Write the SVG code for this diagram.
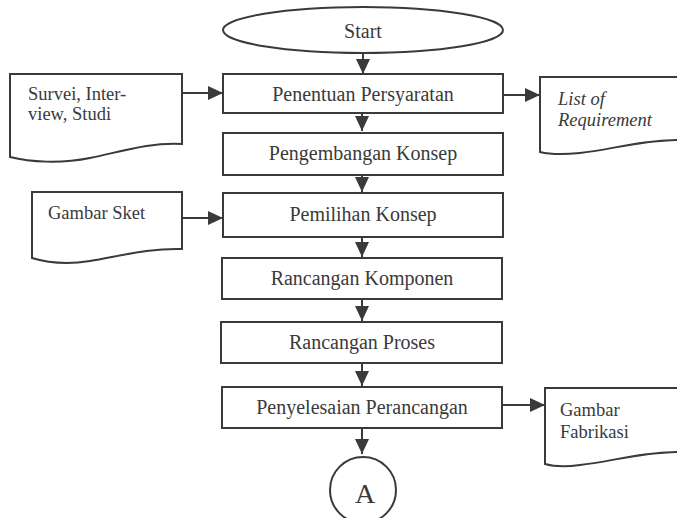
<svg xmlns="http://www.w3.org/2000/svg" width="677" height="518" viewBox="0 0 677 518">
<style>
.s{fill:#fff;stroke:#3a3a3a;stroke-width:2}
.t{font-family:'Liberation Serif','Times New Roman','DejaVu Serif',serif;font-size:20px;fill:#3a3a3a;text-anchor:middle}
.d{font-family:'Liberation Serif','Times New Roman','DejaVu Serif',serif;font-size:18.5px;fill:#3a3a3a}
.c{fill:none;stroke:#3a3a3a;stroke-width:2}
</style>
<defs>
<marker id="ah" markerUnits="userSpaceOnUse" markerWidth="15" markerHeight="14" refX="15" refY="7" orient="auto">
<path d="M0,0 L15,7 L0,14 Z" fill="#3a3a3a"/>
</marker>
</defs>
<rect width="677" height="518" fill="#fff"/>
<g id="start"><ellipse class="s" cx="363" cy="30" rx="140" ry="23"/><text class="t" x="363" y="38">Start</text></g>
<g id="penentuan"><rect class="s" x="223" y="74" width="280" height="39"/><text class="t" x="363" y="101">Penentuan Persyaratan</text></g>
<g id="pengembangan"><rect class="s" x="223" y="133" width="280" height="42"/><text class="t" x="363" y="160">Pengembangan Konsep</text></g>
<g id="pemilihan"><rect class="s" x="223" y="193" width="280" height="44"/><text class="t" x="363" y="221">Pemilihan Konsep</text></g>
<g id="komponen"><rect class="s" x="222" y="258" width="280" height="41"/><text class="t" x="362" y="285">Rancangan Komponen</text></g>
<g id="proses"><rect class="s" x="221" y="322" width="281" height="41"/><text class="t" x="362" y="349">Rancangan Proses</text></g>
<g id="penyelesaian"><rect class="s" x="222" y="387" width="280" height="41"/><text class="t" x="362" y="414">Penyelesaian Perancangan</text></g>
<g id="a"><circle class="s" cx="363" cy="490" r="33"/><text class="t" x="365" y="503" style="font-size:28px">A</text></g>
<g id="survei"><path class="s" d="M10,74 H182 V144 C150,142 120,152 90,158 C60,164 30,162 10,157 Z"/><text class="d" x="28" y="100">Survei, Inter-</text><text class="d" x="28" y="120">view, Studi</text></g>
<g id="sket"><path class="s" d="M32,192 H182 V249 C150,248 120,256 90,261 C65,265 45,262 32,258 Z"/><text class="d" x="48" y="219">Gambar Sket</text></g>
<g id="list"><path class="s" d="M540,77 H680 V140 C640,140 610,150 580,153 C560,155 548,154 540,152 Z"/><text class="d" x="558" y="105" font-style="italic">List of</text><text class="d" x="558" y="126" font-style="italic">Requirement</text></g>
<g id="fabrikasi"><path class="s" d="M545,388 H680 V452 C640,452 610,462 580,465 C565,467 552,466 545,464 Z"/><text class="d" x="560" y="416">Gambar</text><text class="d" x="560" y="438">Fabrikasi</text></g>
<g id="connectors">
<line class="c" x1="363" y1="53" x2="363" y2="74" marker-end="url(#ah)"/>
<line class="c" x1="362" y1="113" x2="362" y2="131" marker-end="url(#ah)"/>
<line class="c" x1="362" y1="175" x2="362" y2="192" marker-end="url(#ah)"/>
<line class="c" x1="362" y1="237" x2="362" y2="257" marker-end="url(#ah)"/>
<line class="c" x1="362" y1="299" x2="362" y2="321" marker-end="url(#ah)"/>
<line class="c" x1="362" y1="363" x2="362" y2="386" marker-end="url(#ah)"/>
<line class="c" x1="362" y1="428" x2="362" y2="454" marker-end="url(#ah)"/>
<line class="c" x1="182" y1="93" x2="223" y2="93" marker-end="url(#ah)"/>
<line class="c" x1="182" y1="218" x2="223" y2="218" marker-end="url(#ah)"/>
<line class="c" x1="503" y1="95" x2="540" y2="95" marker-end="url(#ah)"/>
<line class="c" x1="502" y1="405" x2="545" y2="405" marker-end="url(#ah)"/>
</g>
</svg>
